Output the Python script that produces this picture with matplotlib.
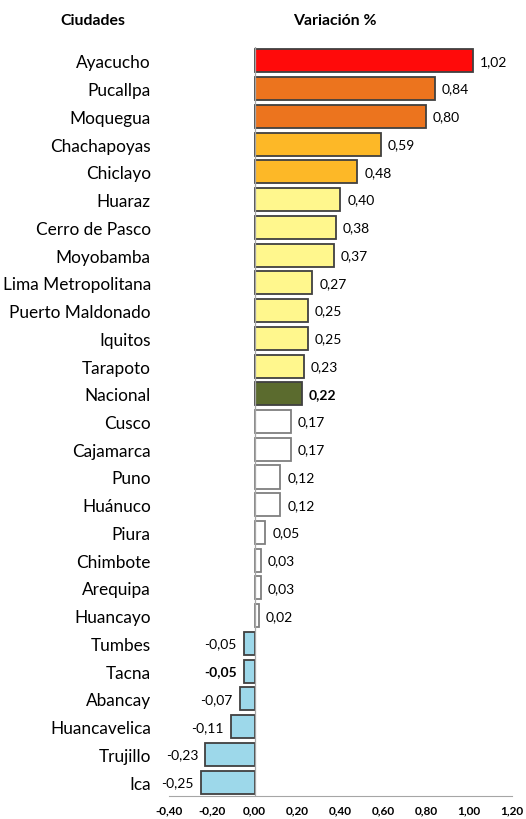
import numpy as np
import matplotlib.pyplot as plt

# --- Data ---
ciudades = ['Ayacucho', 'Pucallpa', 'Moquegua', 'Chachapoyas', 'Chiclayo', 'Huaraz',
            'Cerro de Pasco', 'Moyobamba', 'Lima Metropolitana', 'Puerto Maldonado',
            'Iquitos', 'Tarapoto', 'Nacional', 'Cusco', 'Cajamarca', 'Puno', 'Huánuco',
            'Piura', 'Chimbote', 'Arequipa', 'Huancayo', 'Tumbes', 'Tacna', 'Abancay',
            'Huancavelica', 'Trujillo', 'Ica']
variacion = [1.02, 0.84, 0.80, 0.59, 0.48, 0.40, 0.38, 0.37, 0.27, 0.25, 0.25, 0.23,
             0.22, 0.17, 0.17, 0.12, 0.12, 0.05, 0.03, 0.03, 0.02, -0.05, -0.05, -0.07,
             -0.11, -0.23, -0.25]
bold_labels = ['Nacional', 'Tacna']
x_ticks = [-0.40, -0.20, 0.00, 0.20, 0.40, 0.60, 0.80, 1.00, 1.20]

plt.rcParams['font.family'] = ['Lato', 'DejaVu Sans']


def bar_color(name, v):
    if name == 'Nacional':
        return '#5B6B2E'
    if v < 0:
        return '#9DD8EA'
    if v >= 1.0:
        return '#FF0A0A'
    if v >= 0.7:
        return '#EC741E'
    if v >= 0.45:
        return '#FDB827'
    if v >= 0.2:
        return '#FFF78D'
    return '#FFFFFF'


colors = [bar_color(c, v) for c, v in zip(ciudades, variacion)]
edges = ['#7F7F7F' if col == '#FFFFFF' else '#404040' for col in colors]

fig = plt.figure(figsize=(5.26, 8.2), dpi=100)
ax = fig.add_axes([0.321, 0.028, 0.652, 0.9135])

y = np.arange(len(ciudades))
ax.barh(y, variacion, height=0.83, color=colors, edgecolor=edges, linewidth=1.3, zorder=2)
ax.axvline(0, color='#A6A6A6', linewidth=0.9, zorder=3)

for yi, c, v in zip(y, ciudades, variacion):
    txt = f'{v:.2f}'.replace('.', ',')
    weight = 'bold' if c in bold_labels else 'normal'
    if v >= 0:
        ax.annotate(txt, (v, yi), xytext=(5, 0), textcoords='offset points',
                    ha='left', va='center', fontsize=10, fontweight=weight)
    else:
        ax.annotate(txt, (v, yi), xytext=(-5, 0), textcoords='offset points',
                    ha='right', va='center', fontsize=10, fontweight=weight)

ax.set_xlim(-0.40, 1.20)
ax.set_ylim(len(ciudades) - 0.5, -0.5)
ax.set_yticks(y)
ax.set_yticklabels(ciudades, fontsize=12.4)
ax.set_xticks(x_ticks)
ax.set_xticklabels([f'{t:.2f}'.replace('.', ',') for t in x_ticks],
                   fontsize=8.5, fontweight='bold')
ax.tick_params(axis='y', length=0, pad=13)
ax.tick_params(axis='x', length=0, pad=6)
for s in ['top', 'right', 'left']:
    ax.spines[s].set_visible(False)
ax.spines['bottom'].set_color('#A6A6A6')

fig.text(93 / 526, 1 - 21 / 820, 'Ciudades', ha='center', va='center',
         fontsize=11.4, fontweight='bold')
fig.text(335 / 526, 1 - 21 / 820, 'Variación %', ha='center', va='center',
         fontsize=11.4, fontweight='bold')

fig.savefig('out.png', dpi=100)
